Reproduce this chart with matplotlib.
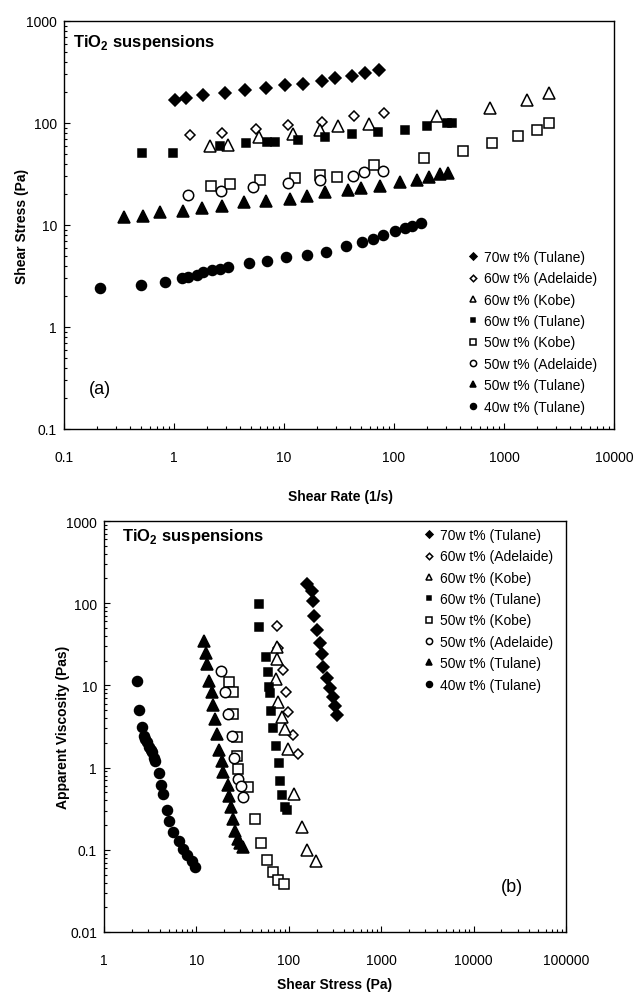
import numpy as np
import matplotlib
matplotlib.use("Agg")
import matplotlib.pyplot as plt
from matplotlib.ticker import LogLocator, FuncFormatter, NullFormatter

plt.rcParams['font.family'] = ['Liberation Sans', 'DejaVu Sans']
plt.rcParams['mathtext.fontset'] = 'custom'
plt.rcParams['mathtext.rm'] = 'Liberation Sans:bold'
plt.rcParams['mathtext.bf'] = 'Liberation Sans:bold'

# ---- (a) shear stress vs shear rate ----
rate_70T = [1.02, 1.28, 1.85, 2.89, 4.42, 6.8, 10.2, 15, 22, 29, 41.8, 54.8, 72.6]
stress_70T = [169, 175, 190, 195, 211, 222, 234, 241, 258, 274, 291, 307, 328]
rate_60A = [1.40, 2.75, 5.56, 10.8, 22.1, 43.6, 81.7]
stress_60A = [76, 79.8, 87, 95, 103, 116, 125]
rate_60K = [2.12, 3.12, 5.97, 12.2, 21.2, 30.7, 59.7, 244, 746, 1630, 2567]
stress_60K = [60, 61.3, 72.4, 78, 86, 94, 97.7, 118, 140, 169, 195]
rate_60T = [0.508, 0.973, 2.62, 4.52, 7.05, 8.27, 13.5, 23.7, 41.8, 72, 127, 198, 301, 334]
stress_60T = [50.8, 50.8, 60, 63.7, 64.6, 64.6, 68.6, 73.4, 77.5, 82, 85.3, 94, 99, 99]
rate_50K = [2.15, 3.23, 6.05, 12.6, 21.2, 30.6, 65.8, 187, 427, 783, 1350, 1982, 2583]
stress_50K = [24.3, 25.2, 27.8, 28.7, 30.9, 29.3, 39, 45, 53.6, 63.2, 74, 85.3, 99]
rate_50A = [1.33, 2.67, 5.26, 10.8, 21.2, 42.7, 53.7, 80]
stress_50A = [19.7, 21.4, 23.8, 25.6, 27.6, 30, 32.9, 34.1]
rate_50T = [0.351, 0.519, 0.746, 1.22, 1.81, 2.75, 4.36, 6.82, 11.3, 16.2, 23.6, 38.5,
            50, 74.6, 113, 163, 210, 262, 312]
stress_50T = [11.9, 12.3, 13.3, 13.8, 14.6, 15.5, 16.7, 17.3, 18.0, 19.4, 21.2, 22.2,
              22.9, 24.3, 26.6, 27.8, 29.8, 31.6, 32.4]
rate_40T = [0.212, 0.498, 0.828, 1.17, 1.35, 1.61, 1.85, 2.2, 2.62, 3.12, 4.81, 6.97,
            10.4, 16.1, 23.9, 36.6, 51.5, 64, 80, 102, 126, 145, 175]
stress_40T = [2.39, 2.58, 2.74, 3.0, 3.11, 3.24, 3.49, 3.62, 3.7, 3.85, 4.21, 4.4,
              4.89, 5.12, 5.48, 6.18, 6.76, 7.3, 8.04, 8.79, 9.29, 9.71, 10.5]

# ---- (b) apparent viscosity vs shear stress ----
bs_70T = [158, 180, 184, 187, 200, 218, 227, 237, 257, 279, 299, 316, 330]
bv_70T = [171, 142, 107, 69, 47, 32.8, 24.1, 16.6, 12.3, 9.2, 7.3, 5.6, 4.4]
bs_60A = [75, 77, 86, 93, 99, 110, 125]
bv_60A = [53, 28.5, 15.4, 8.4, 4.7, 2.5, 1.47]
bs_60K = [75, 74, 73, 77, 84, 91, 99, 115, 138, 159, 197]
bv_60K = [29, 21, 12, 6.3, 4.1, 2.95, 1.68, 0.477, 0.188, 0.1, 0.074]
bs_60T = [47.6, 47.6, 56, 60, 61.6, 62.5, 63.7, 68, 72.7, 78, 80, 85, 90, 95]
bv_60T = [97.7, 52, 22, 14.4, 9.5, 8.0, 4.9, 3.0, 1.85, 1.13, 0.69, 0.46, 0.33, 0.305]
bs_50K = [22.7, 24.7, 25, 27.3, 27.3, 28, 36.5, 43, 49.7, 58.6, 68, 76, 88]
bv_50K = [11.1, 8.2, 4.5, 2.34, 1.40, 0.96, 0.575, 0.237, 0.121, 0.075, 0.053, 0.043, 0.038]
bs_50A = [18.5, 20.4, 22.1, 24.1, 25.5, 28.4, 30.1, 31.6]
bv_50A = [15.1, 8.2, 4.5, 2.45, 1.30, 0.73, 0.60, 0.435]
bs_50T = [12.2, 12.6, 12.9, 13.7, 14.6, 15, 15.9, 16.6, 17.6, 18.8, 19.6, 22.1, 22.7,
          23.5, 24.7, 26.2, 28.4, 30, 31.6]
bv_50T = [35, 24.8, 18.2, 11.4, 8.2, 5.8, 3.9, 2.56, 1.65, 1.21, 0.88, 0.61, 0.455,
          0.33, 0.237, 0.171, 0.135, 0.12, 0.107]
bs_40T = [2.26, 2.41, 2.56, 2.71, 2.8, 2.9, 3.1, 3.2, 3.28, 3.48, 3.55, 3.97, 4.11,
          4.39, 4.77, 5.0, 5.63, 6.53, 7.1, 7.86, 8.9, 9.66]
bv_40T = [11.4, 5.07, 3.09, 2.4, 2.2, 2.03, 1.77, 1.65, 1.53, 1.31, 1.2, 0.86, 0.62,
          0.477, 0.308, 0.222, 0.163, 0.129, 0.102, 0.086, 0.074, 0.062]

labels = ['70w t% (Tulane)', '60w t% (Adelaide)', '60w t% (Kobe)', '60w t% (Tulane)',
          '50w t% (Kobe)', '50w t% (Adelaide)', '50w t% (Tulane)', '40w t% (Tulane)']
# marker, filled, size (pt)
styles = [('D', True, 6.0), ('D', False, 5.5), ('^', False, 8.0), ('s', True, 5.8),
          ('s', False, 7.0), ('o', False, 7.5), ('^', True, 8.0), ('o', True, 7.2)]

top_data = [(rate_70T, stress_70T), (rate_60A, stress_60A), (rate_60K, stress_60K),
            (rate_60T, stress_60T), (rate_50K, stress_50K), (rate_50A, stress_50A),
            (rate_50T, stress_50T), (rate_40T, stress_40T)]
bot_data = [(bs_70T, bv_70T), (bs_60A, bv_60A), (bs_60K, bv_60K), (bs_60T, bv_60T),
            (bs_50K, bv_50K), (bs_50A, bv_50A), (bs_50T, bv_50T), (bs_40T, bv_40T)]

W, H = 636, 995
fig = plt.figure(figsize=(W / 100, H / 100), dpi=100)


def rect(l, t, r, b):
    return [l / W, 1 - b / H, (r - l) / W, (b - t) / H]


def fx(px):
    return px / W


def fy(py):
    return 1 - py / H


fmt = FuncFormatter(lambda v, p: f'{v:g}')


def style_axes(ax, xlim, ylim):
    ax.set_xscale('log')
    ax.set_yscale('log')
    ax.set_xlim(*xlim)
    ax.set_ylim(*ylim)
    for a in (ax.xaxis, ax.yaxis):
        a.set_major_locator(LogLocator(base=10, numticks=20))
        a.set_minor_locator(LogLocator(base=10, subs=np.arange(2, 10), numticks=20))
        a.set_major_formatter(fmt)
        a.set_minor_formatter(NullFormatter())
    ax.tick_params(which='both', direction='in', top=False, right=False,
                   labelsize=10, width=0.8, color='black')
    ax.tick_params(which='major', length=4)
    ax.tick_params(which='minor', length=2.5)
    ax.tick_params(axis='x', pad=15)
    ax.tick_params(axis='y', pad=5)
    for sp in ax.spines.values():
        sp.set_linewidth(1.0)
        sp.set_color('black')


def draw(ax, data):
    handles = []
    for (xs, ys), (m, filled, ms) in zip(data, styles):
        h, = ax.plot(xs, ys, linestyle='none', marker=m, markersize=ms,
                     markerfacecolor='black' if filled else 'white',
                     markeredgecolor='black', markeredgewidth=1.1)
        handles.append(h)
    return handles


leg_kw = dict(bbox_transform=fig.transFigure, frameon=False, fontsize=10,
              markerscale=0.6, handlelength=0.8, handletextpad=0.4,
              labelspacing=0.53, borderpad=0, borderaxespad=0, loc='upper left')

# top panel
ax1 = fig.add_axes(rect(64, 22, 614, 430))
h1 = draw(ax1, top_data)
style_axes(ax1, (0.1, 10000), (0.1, 1000))
ax1.text(fx(73), fy(42), r'TiO$_\mathbf{2}$ suspensions', transform=fig.transFigure,
         fontsize=12, fontweight='bold', va='center', ha='left')
ax1.text(fx(100), fy(390), '(a)', transform=fig.transFigure, fontsize=13,
         ha='center', va='center')
ax1.legend(h1, labels, bbox_to_anchor=(fx(467), fy(251)), **leg_kw)
fig.text(fx(340), fy(497), 'Shear Rate (1/s)', fontsize=10, fontweight='bold',
         ha='center', va='center')
fig.text(fx(22), fy(226), 'Shear Stress (Pa)', fontsize=10, fontweight='bold',
         ha='center', va='center', rotation=90)

# bottom panel
ax2 = fig.add_axes(rect(104, 522, 566, 933))
h2 = draw(ax2, bot_data)
style_axes(ax2, (1, 100000), (0.01, 1000))
ax2.text(fx(122), fy(537), r'TiO$_\mathbf{2}$ suspensions', transform=fig.transFigure,
         fontsize=12, fontweight='bold', va='center', ha='left')
ax2.text(fx(512), fy(888), '(b)', transform=fig.transFigure, fontsize=13,
         ha='center', va='center')
ax2.legend(h2, labels, bbox_to_anchor=(fx(423), fy(529)), **leg_kw)
fig.text(fx(335), fy(985), 'Shear Stress (Pa)', fontsize=10, fontweight='bold',
         ha='center', va='center')
fig.text(fx(63), fy(727), 'Apparent Viscosity (Pas)', fontsize=10, fontweight='bold',
         ha='center', va='center', rotation=90)

fig.savefig('out.png', dpi=100, facecolor='white')
